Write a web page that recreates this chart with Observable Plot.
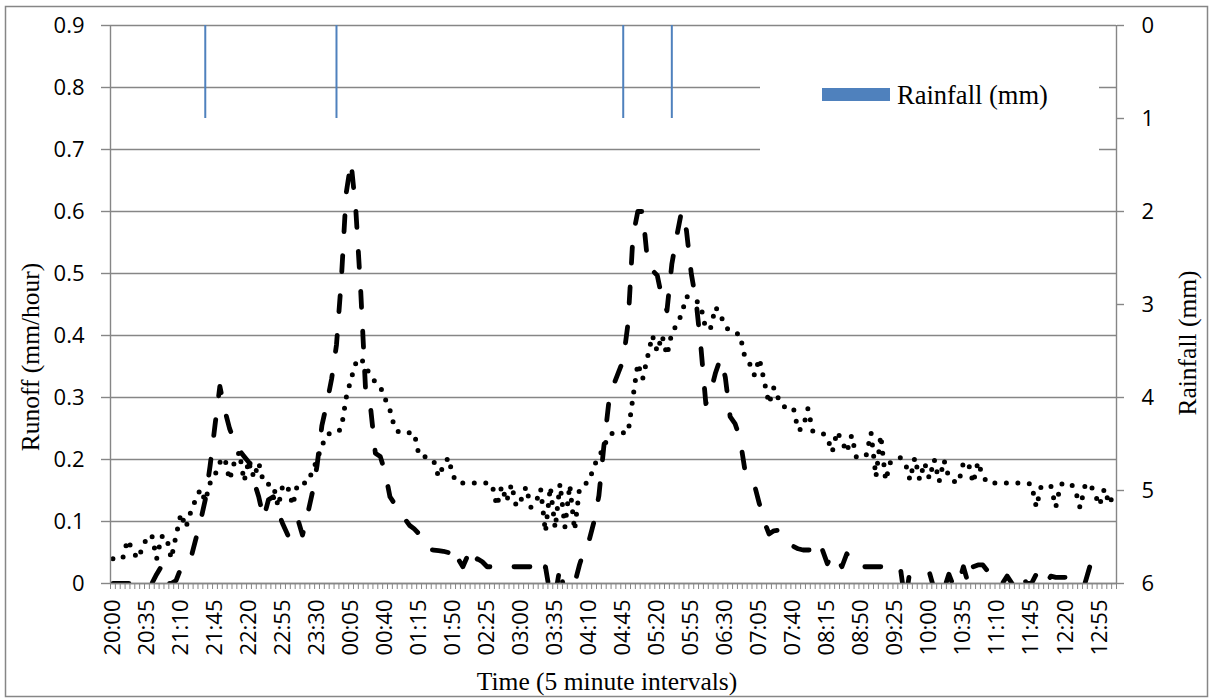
<!DOCTYPE html>
<html><head><meta charset="utf-8">
<script src="https://cdn.jsdelivr.net/npm/d3@7"></script>
<script src="https://cdn.jsdelivr.net/npm/@observablehq/plot@0.6"></script>
<style>
html,body{margin:0;padding:0;background:#fff;}
#chart{width:1211px;height:700px;}
</style></head><body><div id="chart"></div>
<script>
// ---- data ----
const tickLabels = ["20:00","20:35","21:10","21:45","22:20","22:55","23:30","00:05","00:40","01:15",
  "01:50","02:25","03:00","03:35","04:10","04:45","05:20","05:55","06:30","07:05",
  "07:40","08:15","08:50","09:25","10:00","10:35","11:10","11:45","12:20","12:55"];
const labelEvery = 7; // one label every 7 five-minute intervals

// runoff (mm/hour), dashed series, one value per 5-minute interval
const runoffDashed = [
  0,0,0,0,0,0,0,0,0,0.015,
  0.028,0,0,0.005,0.025,0.03,0.04,0.07,0.1,0.135,
  0.19,0.255,0.318,0.28,0.25,0.23,0.215,0.205,0.195,0.165,
  0.14,0.105,0.135,0.14,0.115,0.095,0.078,0.095,0.105,0.078,
  0.11,0.145,0.19,0.255,0.29,0.33,0.385,0.49,0.63,0.68,
  0.6,0.47,0.31,0.285,0.21,0.205,0.18,0.14,0.128,0.115,
  0.105,0.094,0.088,0.08,0.065,0.055,0.054,0.053,0.052,0.05,
  0.03,0.04,0.027,0.045,0.027,0.04,0.035,0.027,0.027,0.027,
  0.027,0.027,0.027,0.027,0.027,0.027,0.027,-0.02,-0.02,0.027,
  -0.02,-0.02,0.027,-0.02,-0.02,0.0,0.03,0.055,0.07,0.1,
  0.142,0.22,0.29,0.32,0.34,0.36,0.42,0.56,0.6,0.6,
  0.52,0.505,0.497,0.46,0.44,0.515,0.56,0.6,0.57,0.5,
  0.455,0.38,0.29,0.31,0.34,0.363,0.333,0.269,0.258,0.235,
  0.185,0.17,0.159,0.129,0.1,0.08,0.085,0.086,0.075,0.067,
  0.06,0.056,0.054,0.054,0.054,0.04,0.054,0.032,0.048,0.04,
  0.027,0.048,0.035,0.027,0.027,0.027,0.027,0.027,0.027,0.027,
  0.027,0.027,0.027,-0.03,0.02,-0.01,-0.02,-0.02,0.018,-0.01,
  -0.02,-0.01,0.015,-0.005,0,0.027,0,0.027,0.03,0.03,
  0.02,0.01,0,0,0.012,0,0,0.015,0,0,
  0.015,0,0,0.012,0.01,0.01,0.01,0.01,0.01,0,
  0,0.027,0.02,-0.02,-0.03,-0.03,-0.03
];

// runoff (mm/hour), dotted series
const runoffDotted = [
  0.04,0.04,0.04,0.07,0.055,0.04,0.055,0.075,0.078,0.04,
  0.076,0.076,0.04,0.078,0.113,0.09,0.115,0.135,0.152,0.133,
  0.162,0.175,0.195,0.203,0.167,0.196,0.212,0.165,0.2,0.17,
  0.195,0.162,0.16,0.159,0.124,0.16,0.155,0.126,0.161,0.162,
  0.162,0.18,0.2,0.222,0.24,0.243,0.243,0.25,0.3,0.33,
  0.356,0.364,0.35,0.335,0.325,0.318,0.298,0.28,0.25,0.243,
  0.243,0.243,0.243,0.206,0.205,0.203,0.198,0.172,0.19,0.203,
  0.173,0.162,0.162,0.162,0.162,0.162,0.162,0.162,0.16,0.125,
  0.157,0.132,0.16,0.124,0.135,0.156,0.123,0.13,0.153,0.083,
  0.156,0.089,0.161,0.091,0.159,0.086,0.153,0.16,0.165,0.19,
  0.204,0.22,0.239,0.243,0.243,0.243,0.243,0.3,0.355,0.33,
  0.365,0.4,0.374,0.4,0.368,0.404,0.417,0.434,0.463,0.46,
  0.457,0.446,0.41,0.413,0.446,0.433,0.415,0.406,0.404,0.402,
  0.366,0.355,0.336,0.363,0.327,0.29,0.316,0.297,0.285,0.285,
  0.284,0.247,0.251,0.282,0.246,0.243,0.243,0.235,0.212,0.245,
  0.23,0.212,0.239,0.203,0.205,0.207,0.243,0.172,0.239,0.166,
  0.196,0.2,0.203,0.196,0.167,0.203,0.167,0.195,0.169,0.2,
  0.164,0.199,0.171,0.165,0.162,0.195,0.195,0.162,0.196,0.173,
  0.162,0.162,0.162,0.162,0.162,0.162,0.162,0.162,0.162,0.16,
  0.123,0.157,0.157,0.157,0.123,0.16,0.162,0.162,0.152,0.122,
  0.157,0.162,0.145,0.126,0.153,0.128,0.146
];

// rainfall events: interval index and depth (mm)
const rainIndex = [19, 46, 105, 115];
const rainMm = [1, 1, 1, 1];

const runoffTicks = [0,0.1,0.2,0.3,0.4,0.5,0.6,0.7,0.8,0.9];
const rainTicks = [0,1,2,3,4,5,6];

// ---- build ----
const N = runoffDashed.length;
const yMax = 0.9, rainMax = 6;
const rainToY = r => yMax - r * yMax / rainMax;   // reversed secondary axis
const yToRain = y => Math.round((yMax - y) * rainMax / yMax);

const dashed = runoffDashed.map((v, i) => ({i, v}));
const dotted = runoffDotted.map((v, i) => ({i, v}));
const rain = rainIndex.map((i, k) => ({i, mm: rainMm[k]}));
const boundaries = d3.range(N + 1).map(k => k - 0.5);
const labelPos = tickLabels.map((_, k) => k * labelEvery);
const axisGrey = "#868686";

const plot = Plot.plot({
  width: 1211, height: 700,
  marginLeft: 110, marginRight: 95, marginTop: 25, marginBottom: 117,
  style: {fontFamily: "'Open Sans', sans-serif", fontSize: "22px", color: "#000", background: "#fff", overflow: "visible"},
  x: {type: "linear", domain: [-0.5, N - 0.5]},
  y: {domain: [0, yMax]},
  marks: [
    Plot.gridY(runoffTicks, {stroke: axisGrey, strokeOpacity: 1, strokeWidth: 1.4}),
    Plot.ruleX(rain, {x: "i", y1: d => rainToY(0), y2: d => rainToY(d.mm), stroke: "#4F81BD", strokeWidth: 2}),
    Plot.line(dotted, {x: "i", y: "v", stroke: "#000", strokeWidth: 5, strokeDasharray: "0,11.5", strokeLinecap: "round", strokeLinejoin: "round", clip: true}),
    Plot.line(dashed, {x: "i", y: "v", stroke: "#000", strokeWidth: 4.8, strokeDasharray: "16,24", strokeLinecap: "round", strokeLinejoin: "round", clip: true}),
    Plot.ruleX([-0.5, N - 0.5], {stroke: axisGrey, strokeWidth: 1.4}),
    Plot.ruleY([0], {stroke: axisGrey, strokeWidth: 1.4}),
    Plot.axisY(runoffTicks, {anchor: "left", tickSize: 9, tickPadding: 17, stroke: axisGrey, strokeWidth: 1.4, fill: "#000",
      tickFormat: d => d === 0 ? "0" : d.toFixed(1), label: null}),
    Plot.axisY(rainTicks.map(rainToY), {anchor: "right", tickSize: 7, tickPadding: 18, stroke: axisGrey, strokeWidth: 1.4, fill: "#000",
      tickFormat: d => String(yToRain(d)), label: null}),
    Plot.axisX(boundaries, {tickSize: 6, stroke: axisGrey, tickFormat: () => "", label: null}),
    Plot.axisX(labelPos, {tickSize: 0, tickPadding: 16, tickRotate: -90, fill: "#000",
      tickFormat: d => tickLabels[Math.round(d / labelEvery)], label: null})
  ]
});

document.getElementById("chart").appendChild(plot);

// ---- decorations: legend, titles, border ----
const ns = "http://www.w3.org/2000/svg";
const svg = d3.select(plot);
const gridG = plot.querySelector('g[aria-label="y-grid"]');
const legendBg = document.createElementNS(ns, "rect");
d3.select(legendBg).attr("x", 760).attr("y", 40).attr("width", 339).attr("height", 150).attr("fill", "#fff");
if (gridG) gridG.after(legendBg); else plot.appendChild(legendBg);

const serif = "'Liberation Serif', 'Times New Roman', serif";
svg.append("rect").attr("x", 822).attr("y", 88).attr("width", 68).attr("height", 13).attr("fill", "#4F81BD");
svg.append("text").attr("x", 897).attr("y", 104).attr("text-anchor", "start")
  .attr("font-family", serif).attr("font-size", 26.5).attr("fill", "#000").text("Rainfall (mm)");

svg.append("text").attr("transform", "translate(30,357) rotate(-90)").attr("text-anchor", "middle").attr("dominant-baseline", "central")
  .attr("font-family", serif).attr("font-size", 25.5).attr("fill", "#000").text("Runoff (mm/hour)");
svg.append("text").attr("transform", "translate(1187,343) rotate(-90)").attr("text-anchor", "middle").attr("dominant-baseline", "central")
  .attr("font-family", serif).attr("font-size", 25.5).attr("fill", "#000").text("Rainfall (mm)");
svg.append("text").attr("x", 607).attr("y", 690).attr("text-anchor", "middle")
  .attr("font-family", serif).attr("font-size", 25.5).attr("fill", "#000").text("Time (5 minute intervals)");

svg.append("rect").attr("x", 5.5).attr("y", 6.5).attr("width", 1202).attr("height", 690)
  .attr("fill", "none").attr("stroke", axisGrey).attr("stroke-width", 1.5);
</script>
</body></html>
